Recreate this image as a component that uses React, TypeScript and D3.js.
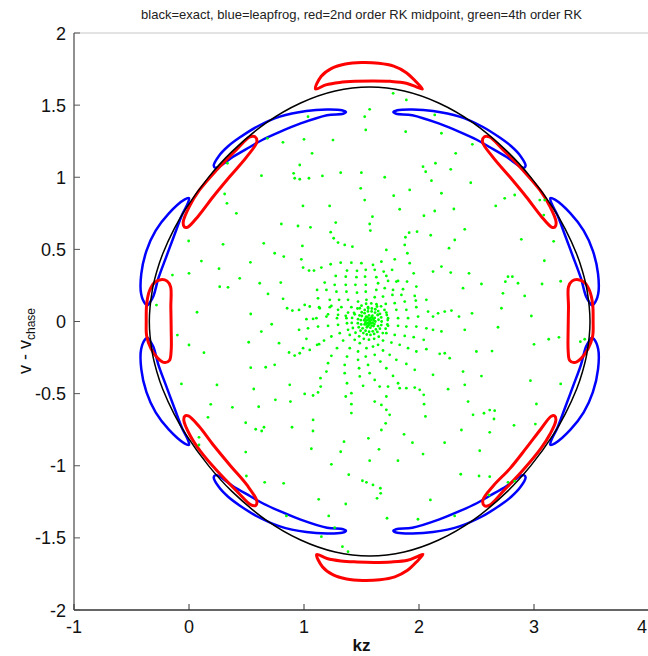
import React from 'react';
import * as d3 from 'd3';

type P = [number, number];

const TITLE = 'black=exact, blue=leapfrog, red=2nd order RK midpoint, green=4th order RK';
const X_LABEL = 'kz';
const Y_LABEL_MAIN = 'v - v';
const Y_LABEL_SUB = 'chase';
const X_TICKS = [-1, 0, 1, 2, 3, 4];
const Y_TICKS = [-2, -1.5, -1, -0.5, 0, 0.5, 1, 1.5, 2];

// exact orbit (black)
const EXACT: P[] = [
  [-0.345, 0], [-0.319, 0.218], [-0.279, 0.35], [-0.229, 0.468], [-0.129, 0.642], [-0.029, 0.781],
  [0.171, 1.001], [0.371, 1.176], [0.671, 1.377], [0.971, 1.515], [1.271, 1.598], [1.571, 1.625],
  [1.871, 1.598], [2.171, 1.515], [2.471, 1.377], [2.771, 1.176], [2.971, 1.001], [3.171, 0.781],
  [3.271, 0.642], [3.371, 0.468], [3.421, 0.35], [3.461, 0.218], [3.487, 0],
  [3.461, -0.218], [3.421, -0.35], [3.371, -0.468], [3.271, -0.642], [3.171, -0.781], [2.971, -1.001],
  [2.771, -1.176], [2.471, -1.377], [2.171, -1.515], [1.871, -1.598], [1.571, -1.625], [1.271, -1.598],
  [0.971, -1.515], [0.671, -1.377], [0.371, -1.176], [0.171, -1.001], [-0.029, -0.781], [-0.129, -0.642],
  [-0.229, -0.468], [-0.279, -0.35], [-0.319, -0.218],
];

// leapfrog (blue) lobes
const BLUE_UL_TOP: P[] = [[0.215, 1.08], [0.26, 1.148], [0.34, 1.215], [0.44, 1.275], [0.59, 1.35], [0.79, 1.42], [1.02, 1.46], [1.2, 1.47], [1.33, 1.465], [1.365, 1.452], [1.34, 1.44], [1.2, 1.43], [0.96, 1.37], [0.79, 1.315], [0.64, 1.26], [0.53, 1.21], [0.38, 1.14], [0.26, 1.072], [0.23, 1.065]];
const BLUE_UR_TOP: P[] = [[2.927, 1.08], [2.882, 1.148], [2.802, 1.215], [2.702, 1.275], [2.552, 1.35], [2.352, 1.42], [2.122, 1.46], [1.942, 1.47], [1.812, 1.465], [1.777, 1.452], [1.802, 1.44], [1.942, 1.43], [2.182, 1.37], [2.352, 1.315], [2.502, 1.26], [2.612, 1.21], [2.762, 1.14], [2.882, 1.072], [2.912, 1.065]];
const BLUE_LL_BOT: P[] = [[0.215, -1.08], [0.26, -1.148], [0.34, -1.215], [0.44, -1.275], [0.59, -1.35], [0.79, -1.42], [1.02, -1.46], [1.2, -1.47], [1.33, -1.465], [1.365, -1.452], [1.34, -1.44], [1.2, -1.43], [0.96, -1.37], [0.79, -1.315], [0.64, -1.26], [0.53, -1.21], [0.38, -1.14], [0.26, -1.072], [0.23, -1.065]];
const BLUE_LR_BOT: P[] = [[2.927, -1.08], [2.882, -1.148], [2.802, -1.215], [2.702, -1.275], [2.552, -1.35], [2.352, -1.42], [2.122, -1.46], [1.942, -1.47], [1.812, -1.465], [1.777, -1.452], [1.802, -1.44], [1.942, -1.43], [2.182, -1.37], [2.352, -1.315], [2.502, -1.26], [2.612, -1.21], [2.762, -1.14], [2.882, -1.072], [2.912, -1.065]];
const BLUE_UL_SIDE: P[] = [[0.0, 0.855], [-0.04, 0.845], [-0.175, 0.75], [-0.29, 0.63], [-0.37, 0.49], [-0.415, 0.33], [-0.416, 0.19], [-0.378, 0.12], [-0.36, 0.112], [-0.342, 0.13], [-0.31, 0.175], [-0.266, 0.3], [-0.197, 0.45], [-0.127, 0.6], [-0.06, 0.74], [-0.01, 0.82]];
const BLUE_LL_SIDE: P[] = [[0.0, -0.855], [-0.04, -0.845], [-0.175, -0.75], [-0.29, -0.63], [-0.37, -0.49], [-0.415, -0.33], [-0.416, -0.19], [-0.378, -0.12], [-0.36, -0.112], [-0.342, -0.13], [-0.31, -0.175], [-0.266, -0.3], [-0.197, -0.45], [-0.127, -0.6], [-0.06, -0.74], [-0.01, -0.82]];
const BLUE_UR_SIDE: P[] = [[3.142, 0.855], [3.182, 0.845], [3.317, 0.75], [3.432, 0.63], [3.512, 0.49], [3.557, 0.33], [3.558, 0.19], [3.52, 0.12], [3.502, 0.112], [3.484, 0.13], [3.452, 0.175], [3.408, 0.3], [3.339, 0.45], [3.269, 0.6], [3.202, 0.74], [3.152, 0.82]];
const BLUE_LR_SIDE: P[] = [[3.142, -0.855], [3.182, -0.845], [3.317, -0.75], [3.432, -0.63], [3.512, -0.49], [3.557, -0.33], [3.558, -0.19], [3.52, -0.12], [3.502, -0.112], [3.484, -0.13], [3.452, -0.175], [3.408, -0.3], [3.339, -0.45], [3.269, -0.6], [3.202, -0.74], [3.152, -0.82]];

// RK2 midpoint (red) lobes
const RED_TOP: P[] = [[1.1, 1.612], [1.15, 1.7], [1.24, 1.755], [1.36, 1.785], [1.5, 1.795], [1.65, 1.79], [1.78, 1.77], [1.89, 1.725], [1.97, 1.665], [2.03, 1.612], [1.98, 1.625], [1.89, 1.652], [1.75, 1.665], [1.6, 1.668], [1.45, 1.665], [1.31, 1.657], [1.19, 1.64]];
const RED_BOTTOM: P[] = [[1.11, -1.615], [1.16, -1.7], [1.25, -1.755], [1.37, -1.785], [1.51, -1.795], [1.66, -1.79], [1.79, -1.77], [1.9, -1.725], [1.98, -1.665], [2.035, -1.615], [1.99, -1.628], [1.9, -1.655], [1.76, -1.667], [1.61, -1.67], [1.46, -1.667], [1.32, -1.66], [1.2, -1.643]];
const RED_LEFT: P[] = [[-0.16, 0.24], [-0.19, 0.28], [-0.245, 0.29], [-0.3, 0.27], [-0.345, 0.21], [-0.368, 0.12], [-0.372, 0.0], [-0.368, -0.1], [-0.33, -0.19], [-0.27, -0.255], [-0.21, -0.285], [-0.17, -0.27], [-0.155, -0.2], [-0.155, -0.05], [-0.158, 0.1]];
const RED_RIGHT: P[] = [[3.3, 0.24], [3.33, 0.28], [3.385, 0.29], [3.44, 0.27], [3.485, 0.21], [3.51, 0.12], [3.514, 0.0], [3.51, -0.1], [3.47, -0.19], [3.41, -0.255], [3.35, -0.285], [3.31, -0.27], [3.297, -0.2], [3.297, -0.05], [3.3, 0.1]];
const RED_UL: P[] = [[0.575, 1.28], [0.53, 1.28], [0.41, 1.19], [0.24, 1.05], [0.09, 0.91], [0.005, 0.8], [-0.05, 0.69], [-0.04, 0.655], [-0.01, 0.655], [0.08, 0.73], [0.21, 0.865], [0.355, 1.005], [0.5, 1.14], [0.59, 1.245]];
const RED_UR: P[] = [[2.567, 1.28], [2.612, 1.28], [2.732, 1.19], [2.902, 1.05], [3.052, 0.91], [3.137, 0.8], [3.192, 0.69], [3.182, 0.655], [3.152, 0.655], [3.062, 0.73], [2.932, 0.865], [2.787, 1.005], [2.642, 1.14], [2.552, 1.245]];
const RED_LL: P[] = [[0.58, -1.275], [0.535, -1.27], [0.42, -1.18], [0.25, -1.04], [0.1, -0.9], [0.01, -0.79], [-0.045, -0.685], [-0.035, -0.655], [-0.005, -0.655], [0.085, -0.725], [0.215, -0.86], [0.36, -1.0], [0.505, -1.135], [0.59, -1.245]];
const RED_LR: P[] = [[2.57, -1.278], [2.61, -1.275], [2.74, -1.17], [2.905, -1.03], [3.06, -0.88], [3.14, -0.78], [3.19, -0.685], [3.18, -0.655], [3.15, -0.657], [3.06, -0.745], [2.93, -0.88], [2.79, -1.02], [2.645, -1.14], [2.555, -1.24]];

// RK4 (green) points
const GREEN_CORE: P[] = [
  [1.571, 0], [1.585, 0.01], [1.557, -0.01], [1.575, 0.022], [1.567, -0.022], [1.597, -0.008], [1.545, 0.008], [1.6, 0.02], [1.542, -0.02], [1.59, -0.028], [1.552, 0.028],
  [1.58, -0.012], [1.562, 0.014], [1.588, 0.03], [1.556, -0.032], [1.608, 0.008], [1.535, -0.006], [1.612, -0.018], [1.532, 0.02],
  [1.62, 0], [1.615, 0.025], [1.595, 0.04], [1.565, 0.043], [1.54, 0.033], [1.523, 0.008], [1.527, -0.02], [1.547, -0.04], [1.577, -0.043], [1.605, -0.032],
  [1.648, 0.012], [1.64, 0.045], [1.618, 0.062], [1.588, 0.07], [1.556, 0.07], [1.527, 0.058], [1.503, 0.038], [1.494, 0.01], [1.497, -0.02], [1.51, -0.047], [1.535, -0.064], [1.566, -0.071], [1.598, -0.068], [1.625, -0.055], [1.644, -0.032],
  [1.675, 0.0], [1.671, 0.028], [1.661, 0.053], [1.645, 0.072], [1.62, 0.085], [1.59, 0.09], [1.558, 0.09], [1.528, 0.08], [1.502, 0.064], [1.483, 0.042], [1.47, 0.016], [1.468, -0.012], [1.476, -0.04], [1.492, -0.064], [1.516, -0.08], [1.546, -0.09], [1.578, -0.093], [1.61, -0.086], [1.638, -0.072], [1.66, -0.05], [1.672, -0.025],
  [1.728, 0.01], [1.72, 0.045], [1.7, 0.08], [1.67, 0.105], [1.63, 0.12], [1.585, 0.125], [1.54, 0.123], [1.5, 0.11], [1.465, 0.09], [1.435, 0.06], [1.418, 0.025], [1.415, -0.01], [1.425, -0.045], [1.448, -0.078], [1.48, -0.103], [1.52, -0.12], [1.565, -0.126], [1.61, -0.12], [1.65, -0.105], [1.685, -0.08], [1.71, -0.05], [1.725, -0.02],
];
const GREEN_ARMS: P[] = [
  [1.499, 0.404], [1.6, 0.392], [1.673, 0.415], [1.789, 0.431], [1.319, 0.408], [1.232, 0.397], [1.412, 0.408],
  [1.374, 0.353], [1.461, 0.351], [1.537, 0.358], [1.615, 0.358], [1.693, 0.346], [1.766, 0.358],
  [1.276, 0.316], [1.363, 0.311], [1.456, 0.307], [1.531, 0.311], [1.629, 0.307], [1.716, 0.316], [1.803, 0.277],
  [1.18, 0.27], [1.267, 0.254], [1.363, 0.254], [1.447, 0.254], [1.537, 0.254], [1.644, 0.265], [1.731, 0.281], [1.818, 0.281], [1.896, 0.277],
  [1.114, 0.219], [1.195, 0.219], [1.282, 0.207], [1.369, 0.207], [1.461, 0.2], [1.537, 0.207], [1.629, 0.219], [1.702, 0.231], [1.774, 0.219], [1.861, 0.224], [1.977, 0.242],
  [1.122, 0.161], [1.224, 0.15], [1.305, 0.15], [1.383, 0.15], [1.47, 0.138], [1.543, 0.15], [1.615, 0.168], [1.687, 0.173], [1.769, 0.184], [1.847, 0.184], [1.963, 0.177],
  [1.05, 0.104], [1.131, 0.099], [1.238, 0.108], [1.325, 0.099], [1.412, 0.099], [1.485, 0.092], [1.557, 0.099], [1.635, 0.104], [1.711, 0.122], [1.789, 0.127], [1.876, 0.138], [1.972, 0.145], [2.064, 0.15],
  [1.209, 0.05], [1.296, 0.046], [1.363, 0.039], [1.441, 0.05], [1.644, 0.046], [1.716, 0.062], [1.803, 0.081], [1.89, 0.081], [1.977, 0.099],
  [1.731, 0.023], [1.818, 0.023], [1.905, 0.023], [1.992, 0.034], [2.079, 0.069],
  [1.731, -0.03], [1.818, -0.03], [1.89, -0.035], [1.977, -0.035], [2.064, -0.047], [2.122, -0.058],
  [1.716, -0.081], [1.789, -0.093], [1.876, -0.1], [1.954, -0.109], [2.041, -0.127],
  [1.687, -0.132], [1.76, -0.146], [1.832, -0.162], [1.905, -0.185], [1.977, -0.208], [2.064, -0.192],
  [1.644, -0.162], [1.687, -0.201], [1.745, -0.231], [1.803, -0.266], [1.89, -0.294], [1.963, -0.335],
  [1.6, -0.174], [1.615, -0.231], [1.664, -0.278], [1.716, -0.324], [1.774, -0.377], [1.818, -0.428],
  [1.543, -0.185], [1.537, -0.243], [1.557, -0.301], [1.571, -0.358], [1.615, -0.405], [1.658, -0.451], [1.716, -0.52],
  [1.485, -0.15], [1.47, -0.208], [1.47, -0.266], [1.479, -0.324], [1.485, -0.381], [1.514, -0.446],
  [1.441, -0.127], [1.398, -0.185], [1.374, -0.243], [1.354, -0.301], [1.354, -0.358], [1.374, -0.428], [1.412, -0.497],
  [1.398, -0.093], [1.34, -0.132], [1.287, -0.185], [1.238, -0.238], [1.209, -0.289], [1.195, -0.347],
  [1.383, -0.058], [1.311, -0.081], [1.238, -0.104], [1.174, -0.132], [1.114, -0.162], [1.05, -0.197],
  [1.374, -0.012], [1.296, -0.023], [1.209, -0.03], [1.122, -0.035], [1.035, -0.047], [0.957, -0.058],
  [1.369, 0.023], [1.287, 0.023], [1.195, 0.034], [1.108, 0.023], [1.021, 0.016],
  [1.383, 0.062], [1.296, 0.081], [1.224, 0.099], [1.137, 0.092],
];
const GREEN_OUTER: P[] = [
  [0.803, 0.676], [0.948, 0.662], [1.056, 0.653], [1.276, 0.686], [1.571, 0.676], [1.577, 0.63], [1.232, 0.619], [1.258, 0.577], [1.296, 0.547], [1.354, 0.531], [1.421, 0.519],
  [1.882, 0.584], [1.914, 0.616], [1.983, 0.623], [2.102, 0.598], [2.398, 0.639], [2.311, 0.565], [2.261, 0.508], [0.65, 0.542], [0.745, 0.473], [0.824, 0.45],
  [0.986, 0.524], [0.977, 0.431], [0.992, 0.374], [1.044, 0.353], [1.087, 0.353], [1.151, 0.374], [1.716, 0.496], [1.876, 0.531], [1.899, 0.473], [1.919, 0.404],
  [1.954, 0.334], [2.122, 0.346], [2.195, 0.381], [2.276, 0.339], [2.435, 0.334], [2.383, 0.231], [0.615, 0.265], [0.798, 0.27], [0.687, 0.191], [0.818, 0.157],
  [0.853, 0.092], [0.899, 0.076], [0.957, 0.08], [1.006, 0.115], [1.079, 0.018], [0.719, -0.019], [0.629, -0.07], [0.783, -0.15], [0.87, -0.215], [0.919, -0.236],
  [0.963, -0.22], [0.992, -0.185], [1.021, -0.12], [1.131, -0.157], [0.667, -0.317], [0.745, -0.3], [0.876, -0.439], [1.006, -0.502], [1.079, -0.513], [1.122, -0.492],
  [1.145, -0.451], [1.143, -0.393], [0.751, -0.543], [0.882, -0.555], [1.079, -0.682], [1.363, -0.52], [1.412, -0.573], [1.412, -0.635], [1.615, -0.555], [1.673, -0.578],
  [1.716, -0.612], [1.745, -0.647], [1.731, -0.451], [1.832, -0.462], [1.89, -0.462], [1.963, -0.458], [2.006, -0.474], [2.041, -0.508], [2.044, -0.573], [2.056, -0.658],
  [2.122, -0.37], [2.18, -0.224], [2.224, -0.22], [2.267, -0.254], [2.383, -0.347], [2.253, -0.469], [2.398, -0.439], [2.427, -0.555], [2.47, -0.647], [2.122, 0.034],
  [2.166, 0.057], [2.224, 0.069], [2.282, 0.076], [2.348, 0.034], [2.461, 0.057], [2.398, -0.058], [2.499, -0.208], [2.195, -0.069],
  [1.571, 1.471], [1.528, 1.42], [1.537, 1.328], [1.035, 1.42], [1.0, 1.263], [1.252, 1.258], [0.817, 1.242], [0.682, 1.27], [1.07, 1.166], [0.334, 1.097],
  [0.963, 1.085], [0.91, 1.027], [0.919, 0.993], [0.963, 0.986], [1.043, 0.993], [1.16, 1.009], [1.319, 1.032], [1.499, 1.032], [1.702, 1.0], [0.63, 1.011],
  [0.31, 0.884], [0.33, 0.819], [0.412, 0.75], [0.991, 0.801], [1.223, 0.801], [1.493, 0.923], [1.528, 0.842], [1.595, 0.727],
  [-0.003, 0.558], [0.296, 0.535], [0.108, 0.419], [0.534, 0.41], [0.261, 0.366], [0.0, 0.334], [-0.144, 0.322], [0.441, 0.299], [0.267, 0.241], [0.339, 0.237],
  [1.775, 1.582], [1.89, 1.536], [2.137, 1.432], [1.884, 1.316], [2.195, 1.305], [2.464, 1.228], [2.319, 1.166], [2.035, 1.073], [2.058, 1.038], [2.143, 1.097],
  [2.276, 1.055], [2.108, 0.976], [2.45, 0.962], [1.919, 0.912], [1.78, 0.872], [2.195, 0.889], [2.745, 0.854], [2.832, 0.877], [3.05, 0.842], [3.093, 0.842],
  [2.667, 0.801], [3.085, 0.738], [2.303, 0.78], [2.137, 0.766], [2.043, 0.733], [1.832, 0.778],
  [2.89, 0.57], [3.171, 0.556], [3.09, 0.421], [2.774, 0.311], [2.812, 0.311], [2.751, 0.276], [2.861, 0.265], [3.232, 0.279], [3.07, 0.26], [2.543, 0.26], [2.919, 0.177], [2.73, 0.195],
  [-0.283, 0.114], [0.07, 0.064], [-0.101, -0.094], [0.0, -0.163], [0.13, -0.216], [0.537, 0.052], [0.519, -0.144], [0.537, -0.32], [-0.066, -0.433], [0.243, -0.44],
  [0.563, -0.468], [0.189, -0.574], [0.377, -0.595], [0.606, -0.591], [0.165, -0.664], [0.493, -0.702], [0.58, -0.747], [0.632, -0.759], [0.652, -0.733], [0.896, -0.733],
  [1.078, -0.759], [0.087, -0.803], [0.087, -0.856], [0.493, -0.905], [1.064, -0.882], [1.238, -0.99], [0.499, -1.071], [0.658, -1.115], [0.823, -1.122], [1.128, -1.233],
  [1.363, -1.265], [0.847, -1.348], [1.215, -1.348], [1.267, -1.429], [1.151, -1.492], [1.334, -1.561], [1.383, -1.596], [1.543, -1.115], [1.6, -1.133], [1.664, -1.156],
  [1.667, -1.191], [1.635, -1.226], [1.571, -0.965], [1.508, -1.104], [1.652, -0.886], [1.389, -1.062], [1.348, -0.833], [1.319, -0.903], [1.56, -0.81], [1.722, -1.364],
  [1.71, -0.706], [1.673, -0.752],
  [2.717, 0.092], [2.977, 0.038], [2.687, -0.04], [3.0, -0.158], [3.128, -0.123], [3.217, -0.11], [3.403, -0.14], [3.441, -0.123], [2.635, -0.205], [2.543, -0.378],
  [2.969, -0.41], [3.232, -0.433], [3.021, -0.572], [2.615, -0.614], [2.658, -0.618], [2.565, -0.636], [2.652, -0.676], [2.826, -0.72], [3.012, -0.711], [2.369, -0.752],
  [2.615, -0.768], [1.87, -0.782], [2.223, -0.84], [1.943, -0.84], [2.528, -0.896], [2.035, -0.919], [1.817, -0.965], [2.363, -1.059], [2.522, -1.071], [2.615, -1.076],
  [2.774, -1.115], [2.832, -1.106], [2.099, -1.237], [1.991, -1.371], [2.31, -1.348], [2.609, -1.203],
];

const BLUE_LOBES = [BLUE_UL_TOP, BLUE_UR_TOP, BLUE_LL_BOT, BLUE_LR_BOT, BLUE_UL_SIDE, BLUE_LL_SIDE, BLUE_UR_SIDE, BLUE_LR_SIDE];
const RED_LOBES = [RED_TOP, RED_BOTTOM, RED_LEFT, RED_RIGHT, RED_UL, RED_UR, RED_LL, RED_LR];
const GREEN = [...GREEN_CORE, ...GREEN_ARMS, ...GREEN_OUTER];

export default function App() {
  const W = 648, H = 656;
  const x = d3.scaleLinear().domain([-1, 4]).range([74, 649]);
  const y = d3.scaleLinear().domain([-2, 2]).range([610, 33]);
  const closed = d3.line<P>().x(d => x(d[0])).y(d => y(d[1])).curve(d3.curveCatmullRomClosed.alpha(0.5));
  const font = "'Liberation Sans', Arial, Helvetica, sans-serif";
  const lastTick = X_TICKS[X_TICKS.length - 1];
  return (
    <svg width={W} height={H} style={{ position: 'absolute', left: 0, top: 0, display: 'block' }} fontFamily={font}>
      <rect width={W} height={H} fill="#fff" />
      <defs>
        <clipPath id="plot"><rect x={74} y={33} width={575} height={577} /></clipPath>
      </defs>
      <text x={361.5} y={18.5} textAnchor="middle" fontSize={13} fill="#222">{TITLE}</text>
      <g clipPath="url(#plot)">
        {BLUE_LOBES.map((l, i) => <path key={'b' + i} d={closed(l) || ''} fill="none" stroke="#0000ff" strokeWidth={2.5} />)}
        {RED_LOBES.map((l, i) => <path key={'r' + i} d={closed(l) || ''} fill="none" stroke="#ff0000" strokeWidth={3} />)}
        <path d={closed(EXACT) || ''} fill="none" stroke="#000" strokeWidth={1.5} />
        {GREEN.map((p, i) => <circle key={'g' + i} cx={x(p[0])} cy={y(p[1])} r={1.4} fill="#00ff00" />)}
      </g>
      {/* axes */}
      <line x1={74} x2={649} y1={33} y2={33} stroke="#c8c8c8" strokeWidth={1.2} />
      <line x1={74} x2={74} y1={33} y2={610} stroke="#555" strokeWidth={1.3} />
      <line x1={74} x2={649} y1={610} y2={610} stroke="#333" strokeWidth={1.3} />
      {X_TICKS.map(t => (
        <g key={'xt' + t}>
          <line x1={x(t)} x2={x(t)} y1={610} y2={604} stroke="#333" strokeWidth={1} />
          {t === lastTick
            ? <text x={W - 1} y={633} textAnchor="end" fontSize={18} fill="#111">{t}</text>
            : <text x={x(t)} y={633} textAnchor="middle" fontSize={18} fill="#111">{t}</text>}
        </g>
      ))}
      {Y_TICKS.map(t => (
        <g key={'yt' + t}>
          <line x1={74} x2={80} y1={y(t)} y2={y(t)} stroke="#555" strokeWidth={1} />
          <text x={66} y={y(t) + 6.5} textAnchor="end" fontSize={18} fill="#111">{t}</text>
        </g>
      ))}
      <text x={361.5} y={651} textAnchor="middle" fontSize={17} fontWeight="bold" fill="#111">{X_LABEL}</text>
      <text transform="translate(31,341) rotate(-90)" textAnchor="middle" fontSize={18} fill="#111">
        {Y_LABEL_MAIN}<tspan fontSize={12} dy={4}>{Y_LABEL_SUB}</tspan>
      </text>
    </svg>
  );
}
